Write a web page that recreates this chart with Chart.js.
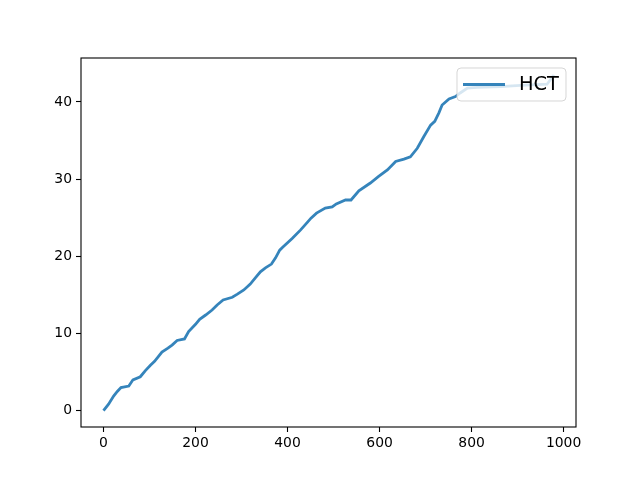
<!DOCTYPE html>
<html>
<head>
<meta charset="utf-8">
<script src="https://cdn.jsdelivr.net/npm/chart.js@4"></script>
<style>
  html, body { margin: 0; padding: 0; background: #fff; }
  #wrap { width: 640px; height: 480px; }
</style>
</head>
<body>
<div id="wrap"><canvas id="myChart" width="640" height="480"></canvas></div>
<script>
// series
var xValues = [0, 11, 22, 30, 38, 55, 64, 80, 91, 102, 111, 127, 140, 149, 160, 176, 185, 200, 209, 222,
  236, 247, 260, 280, 291, 305, 319, 330, 341, 352, 365, 374, 383, 390, 410, 428, 443, 451, 463, 482,
  497, 506, 526, 538, 555, 580, 598, 617, 635, 653, 667, 682, 696, 711, 720, 729, 736, 751, 765, 776,
  791, 812, 863, 906, 964, 979];
var hctValues = [0, 0.85, 1.9, 2.5, 3.0, 3.2, 4.0, 4.4, 5.2, 5.9, 6.4, 7.6, 8.1, 8.5, 9.1, 9.3, 10.25, 11.2, 11.85, 12.4,
  13.05, 13.7, 14.35, 14.7, 15.1, 15.65, 16.4, 17.2, 18.0, 18.5, 19.0, 19.8, 20.8, 21.2, 22.3, 23.4, 24.4, 24.95, 25.6, 26.25,
  26.4, 26.8, 27.3, 27.3, 28.5, 29.5, 30.35, 31.2, 32.3, 32.6, 32.9, 34.0, 35.5, 37.0, 37.5, 38.6, 39.6, 40.4, 40.7, 41.2,
  41.8, 41.9, 42.0, 42.15, 42.3, 43.5];
var xTicks = [0, 200, 400, 600, 800, 1000];
var yTicks = [0, 10, 20, 30, 40];
var seriesName = 'HCT';

var font = "'DejaVu Sans', sans-serif";
var lineColor = 'rgba(31,119,180,0.9)';

// frame + legend inside the plot, matplotlib style
var framePlugin = {
    id: 'frame',
    afterDatasetsDraw: function(chart) {
        var c = chart.ctx, a = chart.chartArea;
        c.save();
        // legend box
        var bx = 457, by = 68, bw = 109, bh = 33, r = 4;
        c.beginPath();
        c.moveTo(bx + r, by);
        c.arcTo(bx + bw, by, bx + bw, by + bh, r);
        c.arcTo(bx + bw, by + bh, bx, by + bh, r);
        c.arcTo(bx, by + bh, bx, by, r);
        c.arcTo(bx, by, bx + bw, by, r);
        c.closePath();
        c.fillStyle = 'rgba(255,255,255,0.8)';
        c.fill();
        c.strokeStyle = 'rgba(204,204,204,0.8)';
        c.lineWidth = 1;
        c.stroke();
        c.beginPath();
        c.moveTo(463, 84.5);
        c.lineTo(505, 84.5);
        c.strokeStyle = lineColor;
        c.lineWidth = 2.8;
        c.stroke();
        c.fillStyle = '#000';
        c.font = "19.4px " + font;
        c.textBaseline = 'middle';
        c.textAlign = 'left';
        c.fillText(seriesName, 519, 84.5);
        // spines
        c.strokeStyle = '#000';
        c.lineWidth = 1.1;
        c.strokeRect(a.left, a.top, a.right - a.left, a.bottom - a.top);
        c.restore();
    }
};

var ctx = document.getElementById('myChart').getContext('2d');
var chart = new Chart(ctx, {
    type: 'line',
    data: {
        datasets: [{
            label: seriesName,
            data: xValues.map(function(x, i) { return { x: x, y: hctValues[i] }; }),
            borderColor: lineColor,
            borderWidth: 2.8,
            pointRadius: 0,
            tension: 0,
            fill: false
        }]
    },
    options: {
        responsive: false,
        animation: false,
        devicePixelRatio: 1,
        layout: { padding: { left: 0, right: 64, top: 58, bottom: 0 } },
        plugins: {
            legend: { display: false },
            tooltip: { enabled: false }
        },
        scales: {
            x: {
                type: 'linear',
                min: -48.9,
                max: 1027,
                afterBuildTicks: function(s) { s.ticks = xTicks.map(function(v) { return { value: v }; }); },
                afterFit: function(s) { s.height = 53; },
                grid: { drawOnChartArea: false, drawTicks: true, tickLength: 5, tickColor: '#000', tickWidth: 1.1 },
                border: { display: false },
                ticks: { color: '#000', font: { family: font, size: 13.9 }, padding: 3, maxRotation: 0,
                         callback: function(v) { return String(v); } }
            },
            y: {
                min: -2.11,
                max: 45.7,
                afterBuildTicks: function(s) { s.ticks = yTicks.map(function(v) { return { value: v }; }); },
                afterFit: function(s) { s.width = 81; },
                grid: { drawOnChartArea: false, drawTicks: true, tickLength: 5, tickColor: '#000', tickWidth: 1.1 },
                border: { display: false },
                ticks: { color: '#000', font: { family: font, size: 13.9 }, padding: 4,
                         callback: function(v) { return String(v); } }
            }
        }
    },
    plugins: [framePlugin]
});
</script>
</body>
</html>
